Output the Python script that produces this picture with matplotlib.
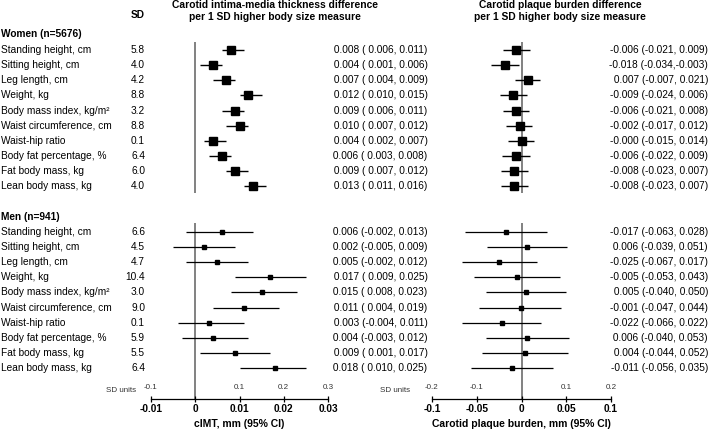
import numpy as np
import matplotlib.pyplot as plt
import matplotlib.transforms as mtransforms

plt.rcParams['font.family'] = ['Liberation Sans', 'DejaVu Sans']

labels = ["Standing height, cm", "Sitting height, cm", "Leg length, cm", "Weight, kg",
          "Body mass index, kg/m²", "Waist circumference, cm", "Waist-hip ratio",
          "Body fat percentage, %", "Fat body mass, kg", "Lean body mass, kg"]

sd_women = [5.8, 4.0, 4.2, 8.8, 3.2, 8.8, 0.1, 6.4, 6.0, 4.0]
sd_men = [6.6, 4.5, 4.7, 10.4, 3.0, 9.0, 0.1, 5.9, 5.5, 6.4]

# cIMT, mm
cimt_w = [0.008, 0.004, 0.007, 0.012, 0.009, 0.010, 0.004, 0.006, 0.009, 0.013]
cimt_w_lo = [0.006, 0.001, 0.004, 0.010, 0.006, 0.007, 0.002, 0.003, 0.007, 0.011]
cimt_w_hi = [0.011, 0.006, 0.009, 0.015, 0.011, 0.012, 0.007, 0.008, 0.012, 0.016]
cimt_m = [0.006, 0.002, 0.005, 0.017, 0.015, 0.011, 0.003, 0.004, 0.009, 0.018]
cimt_m_lo = [-0.002, -0.005, -0.002, 0.009, 0.008, 0.004, -0.004, -0.003, 0.001, 0.010]
cimt_m_hi = [0.013, 0.009, 0.012, 0.025, 0.023, 0.019, 0.011, 0.012, 0.017, 0.025]

# plaque burden, mm
plq_w = [-0.006, -0.018, 0.007, -0.009, -0.006, -0.002, -0.0, -0.006, -0.008, -0.008]
plq_w_lo = [-0.021, -0.034, -0.007, -0.024, -0.021, -0.017, -0.015, -0.022, -0.023, -0.023]
plq_w_hi = [0.009, -0.003, 0.021, 0.006, 0.008, 0.012, 0.014, 0.009, 0.007, 0.007]
plq_m = [-0.017, 0.006, -0.025, -0.005, 0.005, -0.001, -0.022, 0.006, 0.004, -0.011]
plq_m_lo = [-0.063, -0.039, -0.067, -0.053, -0.040, -0.047, -0.066, -0.040, -0.044, -0.056]
plq_m_hi = [0.028, 0.051, 0.017, 0.043, 0.050, 0.044, 0.022, 0.053, 0.052, 0.035]

cimt_ticks = [-0.01, 0, 0.01, 0.02, 0.03]
cimt_sd_ticks = [-0.01, 0.01, 0.02, 0.03]
cimt_sd_labels = ["-0.1", "0.1", "0.2", "0.3"]
plq_ticks = [-0.1, -0.05, 0, 0.05, 0.1]
plq_sd_ticks = [-0.1, -0.05, 0.05, 0.1]
plq_sd_labels = ["-0.2", "-0.1", "0.1", "0.2"]

W, H = 709, 430
fig = plt.figure(figsize=(W / 100, H / 100), dpi=100)

y_w = np.arange(10)
y_m = np.arange(12, 22)
ylim = (23.04, -3.30)
fs = 7.3


def fmt(e, lo, hi):
    return "%6.3f (%6.3f,%6.3f)" % (e, lo, hi)


def forest(left, right, xlim, ticks, sd_ticks, sd_labels, xlabel, data, tx, sdx):
    ax = fig.add_axes([left / W, 31 / H, (right - left) / W, 399 / H])
    ax.set_xlim(xlim)
    ax.set_ylim(ylim)
    for s in ("left", "right", "top"):
        ax.spines[s].set_visible(False)
    ax.spines["bottom"].set_bounds(xlim[0], xlim[1])
    ax.spines["bottom"].set_linewidth(0.9)
    ax.set_yticks([])
    ax.set_xticks(ticks)
    ax.set_xticklabels([("%g" % t) for t in ticks], fontweight="bold", fontsize=7.3)
    ax.tick_params(axis="x", direction="inout", length=5, width=0.9, pad=1)
    ax.set_xlabel(xlabel, fontweight="bold", fontsize=7.5, labelpad=4)
    ax.vlines(0, -0.55, 9.45, color="#777777", lw=1.3, zorder=1)
    ax.vlines(0, 11.42, ylim[0], color="#777777", lw=1.3, zorder=1)

    (ew, lw_, hw), (em, lm, hm) = data
    ew, lw_, hw = map(np.array, (ew, lw_, hw))
    em, lm, hm = map(np.array, (em, lm, hm))
    ax.errorbar(ew, y_w, xerr=[ew - lw_, hw - ew], fmt="s", color="black",
                ms=5.6, elinewidth=1.0, capsize=0, zorder=3)
    ax.errorbar(em, y_m, xerr=[em - lm, hm - em], fmt="s", color="black",
                ms=2.6, elinewidth=0.9, capsize=0, zorder=3)

    xt = ax.get_xaxis_transform()
    for t, s in zip(sd_ticks, sd_labels):
        ax.text(t, 0.02, s, transform=xt, ha="center", va="bottom",
                fontsize=5.8, color="#333333")
    fig.text(sdx / W, 1 - 390 / H, "SD units", ha="right", va="center",
             fontsize=5.8, color="#333333")

    tr = mtransforms.blended_transform_factory(fig.transFigure, ax.transData)
    for i in range(10):
        ax.text(tx / W, y_w[i], fmt(ew[i], lw_[i], hw[i]), transform=tr,
                ha="right", va="center", fontsize=fs)
        ax.text(tx / W, y_m[i], fmt(em[i], lm[i], hm[i]), transform=tr,
                ha="right", va="center", fontsize=fs)
    return ax


ax1 = forest(151, 328, (-0.01, 0.03), cimt_ticks, cimt_sd_ticks, cimt_sd_labels,
             "cIMT, mm (95% CI)",
             ((cimt_w, cimt_w_lo, cimt_w_hi), (cimt_m, cimt_m_lo, cimt_m_hi)), 427.5, 136.5)
ax2 = forest(432, 611, (-0.1, 0.1), plq_ticks, plq_sd_ticks, plq_sd_labels,
             "Carotid plaque burden, mm (95% CI)",
             ((plq_w, plq_w_lo, plq_w_hi), (plq_m, plq_m_lo, plq_m_hi)), 708, 410)

# left-hand text columns
tr = mtransforms.blended_transform_factory(fig.transFigure, ax1.transData)
ax1.text(1 / W, -1.05, "Women (n=5676)", transform=tr, ha="left", va="center",
         fontsize=fs, fontweight="bold")
ax1.text(1 / W, 11.0, "Men (n=941)", transform=tr, ha="left", va="center",
         fontsize=fs, fontweight="bold")
ax1.text(145 / W, -2.31, "SD", transform=tr, ha="right", va="center",
         fontsize=fs, fontweight="bold")
for i in range(10):
    ax1.text(1 / W, y_w[i], labels[i], transform=tr, ha="left", va="center", fontsize=fs)
    ax1.text(1 / W, y_m[i], labels[i], transform=tr, ha="left", va="center", fontsize=fs)
    ax1.text(145 / W, y_w[i], "%.1f" % sd_women[i], transform=tr, ha="right",
             va="center", fontsize=fs)
    ax1.text(145 / W, y_m[i], "%.1f" % sd_men[i], transform=tr, ha="right",
             va="center", fontsize=fs)

fig.text(275 / W, 1 - 0.5 / H,
         "Carotid intima-media thickness difference\nper 1 SD higher body size measure",
         ha="center", va="top", fontsize=7.4, fontweight="bold", linespacing=1.15)
fig.text(560 / W, 1 - 0.5 / H,
         "Carotid plaque burden difference\nper 1 SD higher body size measure",
         ha="center", va="top", fontsize=7.4, fontweight="bold", linespacing=1.15)

fig.savefig("out.png", dpi=100)
